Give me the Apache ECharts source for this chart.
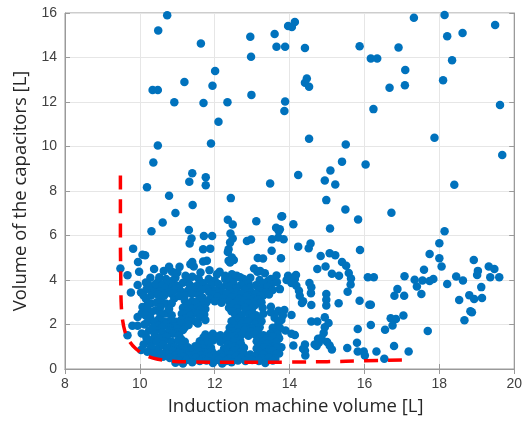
<!DOCTYPE html>
<html>
<head>
<meta charset="utf-8">
<title>Induction machine vs capacitor volume</title>
<script src="https://cdn.jsdelivr.net/npm/echarts@6/dist/echarts.min.js"></script>
<style>
  html, body { margin: 0; padding: 0; background: #fff; }
  #chart { width: 525px; height: 421px; }
</style>
</head>
<body>
<div id="chart"></div>
<script>
// axis ticks
const xTicks = [8, 10, 12, 14, 16, 18, 20];
const yTicks = [0, 2, 4, 6, 8, 10, 12, 14, 16];

// sparse designs, upper half [machine volume, capacitor volume]
const upperPoints = [
  [10.73,15.9],[10.49,15.21],[11.63,14.63],[12.95,14.93],[12.97,14.03],[13.6,15.06],[13.65,14.48],[13.88,14.48],
  [13.96,15.42],[14.06,15.37],[14.14,15.6],[14.41,14.43],[15.87,14.51],[16.91,14.45],[17.32,15.79],[18.14,15.91],
  [18.21,14.96],[18.62,15.1],[19.49,15.46],
  [12.01,13.39],[11.19,12.9],[11.94,12.73],[10.34,12.54],[10.48,12.54],[10.92,11.99],[11.7,11.95],[12.34,11.99],
  [12.98,12.32],[13.88,12.02],[13.86,11.6],[12.1,11.11],[10.48,10.04],[11.9,10.14],[10.36,9.28],[11.4,8.8],
  [11.32,8.42],[11.76,8.62],[11.76,8.26],[10.19,8.17],[13.48,8.34],
  [16.17,13.96],[16.34,13.96],[18.34,13.88],[17.09,13.44],[14.46,13.06],[14.41,12.87],[14.52,12.69],[16.67,12.64],
  [17.08,12.75],[18.1,12.98],[16.24,11.68],[19.62,11.87],[14.52,10.35],[15.5,10.09],[17.87,10.39],[19.68,9.62],
  [15.4,9.32],[16.03,9.19],[15.09,8.92],[14.23,8.72],[14.94,8.47],[15.22,8.29],[18.4,8.28],
  [14.98,7.59],[15.49,7.17],[15.83,6.72],[16.72,7.02],[13.8,6.87],[14.1,6.51],[13.74,6.28],[15.08,6.31],[18.14,6.19],
  [10.78,7.79],[11.41,7.37],[10.95,7.01],[12.43,7.68],[10.61,6.58],[10.31,6.19],[11.31,6.25],[12.35,6.71],
  [12.48,6.49],[13.11,6.64],[13.78,6.85],[13.64,6.35],[13.71,6.2]
];

// designs right of 13.7 L, below 6 L
const rightPoints = [
  [13.84,5.83],[18.0,5.65],[14.23,5.5],[14.51,5.43],[14.56,5.64],[15.88,5.35],[14.83,5.08],[15.07,5.2],[15.22,5.11],
  [13.77,4.98],[17.74,5.17],[18.0,4.98],[18.06,4.61],[18.92,4.9],[15.4,4.81],[15.51,4.64],[14.96,4.61],[14.74,4.49],
  [17.59,4.46],[19.32,4.61],[19.47,4.49],[19.03,4.41],[19.01,4.23],[15.13,4.28],[15.32,4.19],[15.58,4.31],
  [15.64,4.07],[15.63,3.8],[13.96,4.19],[14.14,4.04],[13.92,4.0],[14.05,3.86],[16.09,4.12],[16.25,4.12],
  [17.07,4.17],[17.34,4.01],[17.55,3.98],[17.74,3.96],[17.84,4.04],[18.45,4.16],[18.63,3.98],[19.36,4.12],
  [19.6,4.12],[18.21,3.82],[14.53,3.86],[14.58,3.67],[14.57,3.41],[13.74,3.59],[14.18,3.74],[14.25,3.52],
  [14.27,3.29],[14.33,2.97],[14.98,3.37],[14.98,3.11],[14.98,2.85],[15.55,3.47],[16.88,3.59],[16.8,3.29],
  [17.06,3.29],[17.4,3.71],[17.52,3.37],[19.12,3.68],[18.8,3.32],[18.93,3.15],[19.14,3.19],[18.53,3.1],
  [15.87,3.07],[15.31,2.95],[14.58,2.88],[16.13,2.89],[16.17,2.89],[13.86,2.65],[14.05,2.43],[18.83,2.6],
  [18.87,2.55],[18.67,2.19],[17.04,2.4],[16.7,2.28],[16.84,2.25],[16.75,1.95],[14.58,2.13],[14.74,2.13],
  [14.94,2.33],[15.04,2.07],[16.17,1.98],[16.55,1.76],[17.69,1.71],[15.82,1.8],[13.89,1.73],[14.05,1.58],
  [14.14,1.53],[14.94,1.88],[14.91,1.62],[14.85,1.39],[14.78,1.18],[14.72,1.03],[15.0,1.21],[15.07,1.06],
  [15.13,0.88],[14.41,1.1],[14.36,0.91],[14.42,0.61],[13.78,0.98],[14.1,1.06],[15.54,0.94],[15.8,1.18],
  [15.82,0.79],[15.98,0.79],[16.01,0.61],[16.32,0.79],[16.79,1.03],[17.18,0.79],[16.53,0.46],[14.41,0.83],
  [14.17,4.23],[14.36,3.05],[14.67,1.1],[14.76,1.36]
];

// dense cluster, 9.4 - 13.9 L
const clusterPoints = [
  [12.42,6.09],[12.48,5.87],[11.38,5.86],[11.33,5.64],[11.71,5.98],[11.93,5.98],[12.86,5.75],[12.97,5.82],
  [13.53,5.83],[13.7,5.91],[9.82,5.41],[10.07,5.13],[10.14,5.11],[11.69,5.38],[11.88,5.41],[12.35,5.26],
  [12.51,4.9],[13.52,5.31],[13.15,4.99],[13.29,4.97],[9.95,4.81],[9.48,4.52],[9.67,4.21],[9.98,4.37],
  [10.38,4.49],[11.4,4.81],[11.44,4.61],[11.06,4.59],[11.69,4.83],[11.79,4.86],[11.86,4.44],[12.13,4.37],
  [13.05,4.52],[13.14,4.37],[13.34,4.3],[10.86,4.37],[11.22,4.19],[11.57,4.07],[12.59,4.19],[12.77,4.04],
  [12.28,4.04],[12.41,5.68],[12.37,5.38],[12.37,4.86],[11.35,4.71],[11.0,4.34],[10.78,4.59],[10.64,4.41],
  [11.62,4.34],[12.06,4.26],[12.28,4.19],[12.46,4.26],[11.84,4.04],[12.46,5.01],[12.41,4.79],[12.55,4.12],
  [12.68,4.12],[13.21,4.41],
  [10.16,3.89],[9.94,3.77],[9.76,3.44],[10.03,3.44],[10.33,3.52],[10.47,3.59],[10.07,2.79],[9.94,2.34],
  [9.8,1.94],[9.94,1.94],[9.67,1.52],[10.03,0.85],[10.48,0.88],[10.16,3.16],[10.29,2.94],[10.42,2.64],
  [10.56,3.09],[10.69,2.94],[10.25,1.74],[10.42,1.74],[10.33,1.3],[10.49,0.92],[10.69,2.49],[10.6,2.12],
  [10.26,1.23],[10.11,2.62],[10.18,3.6],[10.3,3.3],[10.2,2.1],[10.15,1.55],[10.3,1.0],[10.45,0.62],[10.62,0.55],
  [10.1,3.3],[10.22,2.95],[10.05,2.5],[10.12,2.0],[10.05,1.6],[10.18,1.38],[10.1,1.1],[10.2,0.78],[10.35,0.7],
  [10.28,4.1],[10.25,3.75],
  [10.52,4.12],[10.7,4.05],[10.95,4.1],[11.4,4.15],[12.95,4.1],[13.5,4.05],[13.65,4.2],
  [10.5,3.95],[10.88,3.98],[11.25,3.95],[11.6,3.92],[12.0,3.98],[12.4,3.95],[12.85,3.92],[13.2,4.0],[13.42,3.95],
  [10.42,3.82],[10.6,3.78],[10.78,3.85],[10.98,3.75],[11.15,3.88],[11.33,3.8],[11.5,3.72],[11.7,3.85],
  [11.9,3.78],[12.1,3.82],[12.3,3.75],[12.5,3.86],[12.7,3.78],[12.9,3.84],[13.1,3.76],[13.3,3.85],[13.5,3.8],[13.66,3.9],
  [10.68,3.65],[10.88,3.68],[11.05,3.6],[11.42,3.65],[11.78,3.62],[12.15,3.65],[12.38,3.68],[12.58,3.62],
  [12.92,3.65],[13.25,3.62],[13.42,3.68],
  [10.55,3.5],[10.75,3.45],[10.92,3.55],[11.1,3.48],[11.28,3.52],[11.48,3.42],[11.65,3.55],[11.85,3.46],
  [12.02,3.53],[12.2,3.44],[12.4,3.52],[12.6,3.47],[12.8,3.55],[12.98,3.45],[13.18,3.52],[13.38,3.45],[13.55,3.55],
  [10.48,3.35],[10.65,3.3],[10.85,3.38],[11.2,3.32],[11.38,3.38],[11.58,3.32],[11.95,3.35],[12.12,3.3],
  [12.32,3.38],[12.52,3.32],[12.72,3.38],[12.9,3.3],[13.1,3.38],[13.3,3.32],
  [10.92,3.18],[11.05,3.28],[11.68,3.2],[11.88,3.15],[12.08,3.25],[12.25,3.18],[12.45,3.22],[12.65,3.15],
  [12.85,3.25],[13.05,3.18],[13.22,3.28],[13.45,3.35],
  [10.45,3.0],[11.2,3.08],[11.4,3.05],[11.58,3.1],[11.78,3.0],[12.0,3.05],[12.18,2.98],[12.38,3.05],
  [12.58,3.02],[12.78,3.08],[12.98,3.02],[13.15,3.1],
  [10.85,2.95],[11.3,2.88],[11.5,2.95],[11.68,2.85],[12.5,2.92],[12.7,2.85],[12.9,2.95],[13.08,2.88],[13.25,3.0],
  [10.2,2.72],[10.55,2.78],[10.78,2.7],[11.15,2.75],[11.38,2.72],[11.55,2.78],[11.75,2.7],[12.38,2.75],
  [12.6,2.72],[12.8,2.78],[13.0,2.72],[13.28,2.75],[13.5,2.8],
  [10.3,2.55],[11.25,2.6],[11.45,2.52],[11.62,2.65],[12.45,2.6],[12.62,2.52],[12.82,2.62],[13.0,2.5],[13.5,2.55],[13.7,2.62],
  [10.15,2.42],[10.55,2.45],[10.85,2.42],[11.12,2.48],[11.35,2.4],[11.55,2.48],[11.72,2.45],[12.55,2.42],
  [12.72,2.4],[12.92,2.45],[13.1,2.42],[13.3,2.48],[13.6,2.45],[13.82,2.42],
  [10.28,2.3],[10.5,2.22],[10.78,2.15],[11.2,2.28],[11.4,2.2],[11.6,2.32],[11.75,2.2],[12.62,2.25],[12.8,2.18],
  [13.0,2.3],[13.18,2.22],[13.6,2.3],[13.78,2.2],
  [10.38,2.12],[10.62,2.15],[10.95,2.12],[11.1,2.2],[11.3,2.15],[11.5,2.12],[12.45,2.15],[12.7,2.12],
  [12.9,2.15],[13.1,2.1],[13.25,2.15],[13.7,2.12],
  [10.5,1.95],[10.7,2.02],[10.9,1.92],[11.1,2.05],[11.3,1.98],[11.55,2.05],[12.55,1.95],[12.72,2.02],[12.9,1.9],
  [13.08,2.0],[13.7,1.98],
  [10.35,1.85],[10.6,1.88],[10.8,1.85],[11.0,1.82],[11.2,1.88],[12.4,1.85],[12.62,1.82],[12.82,1.88],
  [13.0,1.82],[13.2,1.88],[13.55,1.85],[13.75,1.82],
  [10.6,1.65],[10.8,1.72],[10.98,1.62],[11.15,1.75],[12.45,1.7],[12.62,1.62],[12.8,1.75],[12.98,1.68],[13.15,1.72],[13.6,1.65],
  [10.4,1.55],[10.65,1.52],[10.88,1.58],[11.05,1.5],[11.75,1.55],[11.95,1.58],[12.15,1.52],[12.35,1.58],
  [12.55,1.5],[12.72,1.55],[12.9,1.5],[13.08,1.55],[13.3,1.52],[13.48,1.58],[13.68,1.55],
  [10.55,1.38],[10.72,1.45],[11.1,1.35],[11.7,1.42],[11.88,1.35],[12.05,1.45],[12.25,1.38],[12.42,1.45],[12.6,1.35],
  [13.2,1.42],[13.38,1.35],[13.55,1.45],[13.72,1.38],
  [10.45,1.22],[10.65,1.25],[10.85,1.22],[11.02,1.28],[11.2,1.22],[11.6,1.25],[11.78,1.22],[11.95,1.28],
  [12.15,1.22],[12.32,1.28],[12.5,1.22],[12.68,1.28],[13.12,1.25],[13.3,1.22],[13.48,1.28],[13.65,1.22],
  [10.62,1.08],[11.1,1.05],[11.28,0.98],[11.48,1.02],[11.65,1.1],[11.82,1.05],[12.35,1.1],[12.52,1.02],[12.7,1.12],
  [13.22,1.05],[13.4,1.12],[13.58,1.02],
  [10.75,0.95],[10.92,0.98],[11.18,0.92],[11.38,0.88],[11.55,0.95],[11.72,0.9],[11.9,0.95],[12.25,0.92],
  [12.42,0.95],[12.6,0.9],[12.78,0.95],[13.12,0.92],[13.3,0.95],[13.48,0.9],[13.65,0.95],
  [10.7,0.78],[10.88,0.82],[11.05,0.75],[11.22,0.82],[11.4,0.72],[11.58,0.8],[11.75,0.72],[11.92,0.82],[12.32,0.75],
  [12.5,0.82],[12.68,0.72],[13.2,0.78],[13.38,0.72],[13.55,0.82],[13.72,0.7],
  [10.58,0.7],[10.78,0.65],[10.95,0.62],[11.12,0.68],[11.3,0.62],[11.48,0.65],[11.65,0.62],[11.82,0.68],
  [12.0,0.65],[12.15,0.7],[12.42,0.65],[12.6,0.62],[12.78,0.68],[12.95,0.65],[13.12,0.62],[13.3,0.65],
  [13.48,0.62],[13.65,0.68],
  [10.8,0.5],[10.98,0.45],[11.15,0.55],[11.32,0.48],[11.5,0.52],[11.68,0.45],[11.85,0.55],[12.02,0.48],[12.2,0.52],
  [12.38,0.45],[12.55,0.55],[12.72,0.5],[12.9,0.45],[13.08,0.55],[13.25,0.48],[13.45,0.52],[13.62,0.45],
  [11.05,0.38],[11.25,0.4],[11.6,0.36],[11.78,0.38],[12.1,0.4],[12.3,0.36],[12.62,0.38],[12.82,0.36],
  [13.0,0.4],[13.18,0.36],[13.55,0.38],
  [10.95,0.28],[11.15,0.25],[11.4,0.3],[11.95,0.27],[12.2,0.25],[12.45,0.3],[13.35,0.27]
];

// red dashed lower bound
const frontX = [9.48, 9.48, 9.49, 9.5, 9.53, 9.6, 9.72, 9.9, 10.15, 10.45, 10.8, 11.3, 12.5, 14.0, 15.0, 16.0, 17.0];
const frontY = [8.7, 6.0, 4.0, 3.0, 2.3, 1.7, 1.25, 0.9, 0.62, 0.45, 0.36, 0.32, 0.3, 0.31, 0.33, 0.37, 0.41];

const chart = echarts.init(document.getElementById('chart'));

const axisColor = '#9a9a9a';
const labelStyle = { color: '#404040', fontFamily: 'Liberation Sans, Arial, sans-serif', fontSize: 14 };
const nameStyle = { color: '#262626', fontFamily: 'Open Sans, sans-serif', fontSize: 18.5 };

const option = {
  animation: false,
  backgroundColor: '#fff',
  grid: { left: 65, right: 8, top: 13, bottom: 51, show: true, borderColor: axisColor, borderWidth: 1 },
  xAxis: [
    {
      type: 'value',
      min: xTicks[0], max: xTicks[xTicks.length - 1], interval: 2,
      name: 'Induction machine volume [L]',
      nameLocation: 'middle', nameGap: 28,
      nameTextStyle: Object.assign({ padding: [0, 0, 0, 12] }, nameStyle),
      axisLine: { show: true, lineStyle: { color: axisColor } },
      axisTick: { show: true, inside: true, length: 5, lineStyle: { color: axisColor } },
      axisLabel: Object.assign({ margin: 8 }, labelStyle),
      splitLine: { show: true, lineStyle: { color: '#e6e6e6' } }
    },
    {
      type: 'value', position: 'top',
      min: xTicks[0], max: xTicks[xTicks.length - 1], interval: 2,
      axisLine: { show: true, lineStyle: { color: axisColor } },
      axisTick: { show: true, inside: true, length: 5, lineStyle: { color: axisColor } },
      axisLabel: { show: false }, splitLine: { show: false }
    }
  ],
  yAxis: [
    {
      type: 'value',
      min: yTicks[0], max: yTicks[yTicks.length - 1], interval: 2,
      name: 'Volume of the capacitors [L]',
      nameLocation: 'middle', nameGap: 35, nameTextStyle: nameStyle,
      axisLine: { show: true, lineStyle: { color: axisColor } },
      axisTick: { show: true, inside: true, length: 5, lineStyle: { color: axisColor } },
      axisLabel: Object.assign({ margin: 8 }, labelStyle),
      splitLine: { show: true, lineStyle: { color: '#e6e6e6' } }
    },
    {
      type: 'value', position: 'right',
      min: yTicks[0], max: yTicks[yTicks.length - 1], interval: 2,
      axisLine: { show: true, lineStyle: { color: axisColor } },
      axisTick: { show: true, inside: true, length: 5, lineStyle: { color: axisColor } },
      axisLabel: { show: false }, splitLine: { show: false }
    }
  ],
  series: [
    {
      type: 'scatter',
      data: upperPoints.concat(rightPoints, clusterPoints),
      symbolSize: 8.5,
      itemStyle: { color: '#0072BD', opacity: 1 }
    },
    {
      type: 'line',
      data: frontX.map((x, i) => [x, frontY[i]]),
      smooth: 0.35,
      showSymbol: false,
      lineStyle: { color: '#ff0000', width: 3.5, type: [14, 10] },
      z: 5
    }
  ]
};

chart.setOption(option);
</script>
</body>
</html>
